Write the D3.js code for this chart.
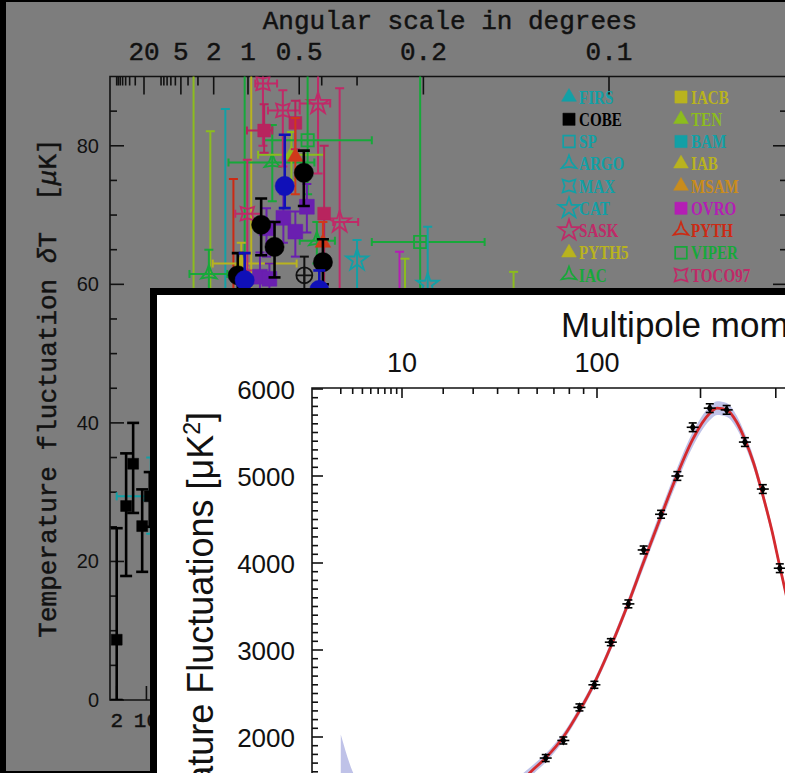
<!DOCTYPE html>
<html><head><meta charset="utf-8">
<script src="https://cdn.jsdelivr.net/npm/d3@7"></script>
<style>html,body{margin:0;padding:0;background:#000;overflow:hidden}</style>
</head><body><svg id="c" width="785" height="773"></svg>
<script>
// ================= BACK CHART DATA =================
const angularMajor = [20, 5, 2, 1, 0.5, 0.2, 0.1];
const angularMinor = [90, 80, 70, 60, 50, 40, 30, 10, 9, 8, 7, 6, 4, 3, 0.4, 0.3];
const backYTicks = [0, 20, 40, 60, 80];
const backBottomTicks = [2, 10];
const legendCol1 = ["FIRS","COBE","SP","ARGO","MAX","CAT","SASK","PYTH5","IAC"];
const legendCol2 = ["IACB","TEN","BAM","IAB","MSAM","OVRO","PYTH","VIPER","TOCO97"];
const expColor = {FIRS:"#12a0a6",COBE:"#000",SP:"#12a0a6",ARGO:"#12a0a6",MAX:"#12a0a6",CAT:"#12a0a6",
  SASK:"#c02a68",PYTH5:"#b9b31e",IAC:"#17a83a",IACB:"#b9b31e",TEN:"#8cbc1e",BAM:"#12a0a6",IAB:"#b9b31e",
  MSAM:"#c98c1c",OVRO:"#b41eb4",PYTH:"#cc2a14",VIPER:"#17a83a",TOCO97:"#c02a68",
  BOOM:"#000",MAXIMA:"#1010b8",QMAP:"#6a1fb0",MAT:"#b8245e",MSAM2:"#d0381a",SK:"#111"};
const expShape = {FIRS:"tri",COBE:"sq",SP:"osq",ARGO:"tristar",MAX:"star4",CAT:"star5",SASK:"star5",
  PYTH5:"tri",IAC:"tristar",IACB:"sq",TEN:"tri",BAM:"sq",IAB:"tri",MSAM:"tri",OVRO:"sq",PYTH:"tristar",
  VIPER:"osq",TOCO97:"star4",BOOM:"circle",MAXIMA:"circle",QMAP:"bigsq",MAT:"sq",MSAM2:"tri",SK:"ocross"};

// measurements: experiment, multipole, dT, lower, upper, l-range low, l-range high
const ptExp = ["TEN","TEN","SP","PYTH","IAC","PYTH5","VIPER","SASK","SASK","IAC","IAC","TEN","IAB","IAC",
  "CAT","CAT","OVRO","TEN","TEN","VIPER","TOCO97","TOCO97","TOCO97","MAT","MAT","MAT","MSAM2","MSAM2",
  "QMAP","QMAP","QMAP","QMAP","QMAP","QMAP","SK","BOOM","BOOM","BOOM","BOOM","BOOM",
  "MAXIMA","MAXIMA","MAXIMA","FIRS","COBE","COBE","COBE","COBE","COBE"];
const ptL  = [53, 83, 117, 138, 170, 190, 885, 525, 435, 260, 80, 330, 160, 430,
  600, 920, 790, 815, 1330, 393, 228, 298, 178, 232, 345, 460, 345, 455,
  390, 300, 240, 345, 218, 250, 380, 378, 222, 268, 150, 455,
  305, 170, 440, 12, 2, 3.7, 5.4, 8.3, 11.5];
const ptV  = [30, 40, 45, 48, 45, 50, 66.1, 69.0, 86.1, 77.6, 61.5, 78.7, 63.0, 66.3,
  63.5, 60, 56, 55, 55, 80.8, 89.0, 85.1, 70.2, 82.2, 83.3, 70.2, 78.4, 66.0,
  71.2, 69.6, 68.1, 67.6, 61.1, 60.8, 61.3, 76.1, 68.6, 65.4, 61.3, 63.2,
  74.2, 60.6, 59.2, 29.4, 8.7, 28.0, 34.1, 25.1, 29.4];
const ptLo = [0, 5, 10, 30, 0, 0, 0, 30, 76, 72, 58, 75, 59, 63,
  50, 45, 45, 45, 45, 73, 80, 77, 62, 79, 79.5, 60, 73, 63,
  67.5, 66, 64, 64, 58, 57, 58, 71.3, 64.2, 61, 57.5, 60,
  71, 55, 55, 24, 0, 17.9, 27, 18.5, 25];
const ptHi = [98, 82.1, 85.3, 75.2, 98, 98, 98, 88.3, 98, 83, 65, 82, 66, 69,
  66.4, 68.3, 64.7, 63.7, 61.8, 92, 95, 88, 78, 86, 86.5, 80, 84, 69,
  74.5, 73, 71, 70.5, 64.6, 63, 64, 79.3, 72.4, 69, 64.5, 66.5,
  81.6, 64.5, 62, 35, 24.8, 35.6, 40.0, 30.4, 32.9];
const ptLLo = [null,null,null,null,null,null,665,498,362,125,47,212,88,362,
  null,null,null,null,null,228,203,245,143,177,null,null,null,null,
  null,null,null,null,null,null,null,null,null,null,null,null,
  null,null,null,2,null,null,null,null,null];
const ptLHi = [null,null,null,null,null,null,1190,605,485,420,122,460,350,505,
  null,null,null,null,null,665,277,362,222,260,null,null,null,null,
  null,null,null,null,null,null,null,null,null,null,null,null,
  null,null,null,25,null,null,null,null,null];

// ================= FRONT CHART DATA (Planck) =================
const frontTopLabels = [10, 100];
const frontTopMajor = [10, 100, 200, 300];
const frontTopMinor = [2,3,4,5,6,7,8,9,20,30,40,50,60,70,80,90];
const frontYTicks = [2000, 3000, 4000, 5000, 6000];
const modelL = [2,3,4,5,6,8,10,15,20,30,40,50,56,65,76,87,98,111,126,139,157,174,191,211,220,232,245,256,268,281,294,306,318,330,345];
const modelD = [1000,960,930,910,890,870,860,850,880,1000,1200,1440,1590,1760,2000,2300,2620,3040,3540,3980,4540,5020,5420,5720,5780,5760,5620,5420,5150,4780,4380,3960,3560,3150,2650];
const bandHi = [2030,1600,1400,1310,1240,1160,1110,1050,1050,1140,1320,1540,1650,1810,2045,2345,2665,3090,3595,4045,4615,5100,5505,5800,5860,5840,5695,5490,5215,4840,4435,4015,3615,3200,2700];
const bandLo = [280,400,470,520,560,600,640,680,730,870,1080,1340,1530,1710,1955,2255,2575,2990,3485,3915,4465,4940,5335,5640,5700,5680,5545,5350,5085,4720,4325,3905,3505,3100,2600];
const dataL = [65,76,87,98,111,126,140,157,174,191,211,232,256,281,306];
const dataD = [1758,1960,2340,2600,3090,3530,4150,4560,5000,5560,5780,5760,5390,4850,3940];
const dataErr = [40,40,40,40,40,45,45,45,50,50,50,50,50,50,50];

// ================= DRAWING =================
const W = 785, H = 773;
const svg = d3.select("#c");
const defs = svg.append("defs");
svg.append("rect").attr("width", W).attr("height", H).attr("fill", "#000");
svg.append("rect").attr("x", 6).attr("y", 2).attr("width", W - 6).attr("height", 769).attr("fill", "#7d7d7d");

const MONO = "'Liberation Mono', 'Courier New', monospace";
const SANS = "'Liberation Sans', Arial, Helvetica, sans-serif";
const SERIF = "'Liberation Serif', 'Times New Roman', serif";

// back scales
const uB = l => Math.log(l + 2) + 0.007257 * l;
const xBu = d3.scaleLinear().domain([uB(2), uB(1800)]).range([116.7, 609]);
const xB = l => xBu(uB(l));
const yB = d3.scaleLinear().domain([0, 90]).range([700, 76.5]);
const BL = 110, BR = 787, BT = yB(90), BB = yB(0);

defs.append("clipPath").attr("id", "clipB").append("rect")
  .attr("x", BL).attr("y", BT).attr("width", BR - BL).attr("height", BB - BT);

const back = svg.append("g");
const monoText = sel => sel.attr("font-family", MONO).attr("fill", "#111").attr("stroke", "#111").attr("stroke-width", 0.45);
// title
monoText(back.append("text").attr("x", 450).attr("y", 29).attr("text-anchor", "middle").attr("font-size", 26))
  .text("Angular scale in degrees");
// angular labels
monoText(back.selectAll(".al").data(angularMajor).join("text")
  .attr("x", d => xB(180 / d)).attr("y", 60).attr("text-anchor", "middle").attr("font-size", 26))
  .text(d => String(d));
// y label
const ylb = monoText(back.append("text").attr("transform", "translate(56,388) rotate(-90)").attr("text-anchor", "middle")
  .attr("font-size", 26)).style("white-space", "pre");
ylb.append("tspan").text("Temperature fluctuation ");
ylb.append("tspan").attr("font-style", "italic").text("\u03b4");
ylb.append("tspan").text("T  [");
ylb.append("tspan").attr("font-style", "italic").text("\u03bc");
ylb.append("tspan").text("K]");
// y tick labels
back.selectAll(".yl").data(backYTicks).join("text")
  .attr("x", 99).attr("y", d => yB(d) + 7).attr("text-anchor", "end")
  .attr("font-family", SANS).attr("font-size", 20).attr("fill", "#111").text(d => d);
// bottom labels
monoText(back.selectAll(".bl").data(backBottomTicks).join("text")
  .attr("x", d => xB(d)).attr("y", 727).attr("text-anchor", "middle").attr("font-size", 21))
  .text(d => d);

// frame
const fr = back.append("g").attr("stroke", "#111").attr("stroke-width", 1.6).attr("fill", "none");
fr.append("path").attr("d", `M${BR},${BT}H${BL}V${BB}H${BR}`);
fr.append("line").attr("x1", BR).attr("x2", BR).attr("y1", BT).attr("y2", BB);
fr.selectAll(".tM").data(angularMajor).join("line")
  .attr("x1", d => xB(180 / d)).attr("x2", d => xB(180 / d)).attr("y1", BT).attr("y2", BT + 18);
fr.selectAll(".tm").data(angularMinor).join("line")
  .attr("x1", d => xB(180 / d)).attr("x2", d => xB(180 / d)).attr("y1", BT).attr("y2", BT + 9);
const yTickVals = d3.range(0, 90, 5);
fr.selectAll(".yt").data(yTickVals).join("line")
  .attr("x1", BL).attr("x2", d => BL + (d % 20 === 0 ? 14 : 7)).attr("y1", d => yB(d)).attr("y2", d => yB(d));
fr.selectAll(".yr").data(yTickVals).join("line")
  .attr("x1", BR).attr("x2", d => BR - (d % 20 === 0 ? 14 : 7)).attr("y1", d => yB(d)).attr("y2", d => yB(d));
fr.selectAll(".bt").data(backBottomTicks).join("line")
  .attr("x1", d => xB(d)).attr("x2", d => xB(d)).attr("y1", BB).attr("y2", BB - 14);

// symbol helpers
function starPath(n, R, r, rot) {
  const pts = [];
  for (let i = 0; i < 2 * n; i++) pts.push([rot + i * Math.PI / n, i % 2 ? r : R]);
  return d3.lineRadial().curve(d3.curveLinearClosed)(pts);
}
function shapePath(shape, k) {
  k = k || 1;
  switch (shape) {
    case "tri": return d3.symbol(d3.symbolTriangle, 105 * k * k)();
    case "sq": return d3.symbol(d3.symbolSquare, 165 * k * k)();
    case "bigsq": return d3.symbol(d3.symbolSquare, 220 * k * k)();
    case "osq": return d3.symbol(d3.symbolSquare, 150 * k * k)();
    case "star5": return d3.symbol(d3.symbolStar, 150 * k * k)();
    case "circle": return d3.symbol(d3.symbolCircle, 290 * k * k)();
    case "ocross": return d3.symbol(d3.symbolCircle, 200 * k * k)() + "M-8,0H8M0,-8V8";
    case "tristar": return starPath(3, 9 * k, 3.2 * k, 0);
    case "star4": return starPath(4, 9.5 * k, 4.6 * k, Math.PI / 4);
  }
}
const isOpen = s => ["osq", "star5", "tristar", "star4", "ocross"].includes(s);

// data points
const pts = ptExp.map((e, i) => ({e, l: ptL[i], v: ptV[i], lo: ptLo[i], hi: ptHi[i], llo: ptLLo[i], lhi: ptLHi[i]}));
const dataG = back.append("g").attr("clip-path", "url(#clipB)");
pts.forEach(p => {
  const c = expColor[p.e], x = xB(p.l), y = yB(p.v);
  const heavy = (p.e === "BOOM" || p.e === "MAXIMA" || p.e === "COBE");
  const sw = heavy ? 2.6 : 2;
  const cw = heavy ? 6 : 4.5;
  const g = dataG.append("g").attr("stroke", c).attr("stroke-width", sw).attr("fill", "none");
  g.append("line").attr("x1", x).attr("x2", x).attr("y1", yB(p.lo)).attr("y2", yB(p.hi));
  g.append("line").attr("x1", x - cw).attr("x2", x + cw).attr("y1", yB(p.hi)).attr("y2", yB(p.hi));
  g.append("line").attr("x1", x - cw).attr("x2", x + cw).attr("y1", yB(p.lo)).attr("y2", yB(p.lo));
  if (p.llo != null) {
    g.append("line").attr("x1", xB(p.llo)).attr("x2", xB(p.lhi)).attr("y1", y).attr("y2", y);
    g.append("line").attr("x1", xB(p.llo)).attr("x2", xB(p.llo)).attr("y1", y - 4).attr("y2", y + 4);
    g.append("line").attr("x1", xB(p.lhi)).attr("x2", xB(p.lhi)).attr("y1", y - 4).attr("y2", y + 4);
  }
  const s = expShape[p.e];
  const k = (p.e === "COBE") ? 0.85 : 1;
  dataG.append("path").attr("transform", `translate(${x},${y})`).attr("d", shapePath(s, k))
    .attr("fill", isOpen(s) ? "none" : c).attr("stroke", c).attr("stroke-width", isOpen(s) ? 1.8 : 0.5);
});

// legend
const legRow = d3.scaleLinear().domain([0, 8]).range([97, 275]);
function legendCol(names, sx, tx) {
  const g = back.append("g");
  names.forEach((n, i) => {
    const c = expColor[n], s = expShape[n], y = legRow(i);
    g.append("path").attr("transform", `translate(${sx},${y})`).attr("d", shapePath(s, 0.95))
      .attr("fill", isOpen(s) ? "none" : c).attr("stroke", c).attr("stroke-width", isOpen(s) ? 1.7 : 0.5);
    g.append("text").attr("transform", `translate(${tx},${y + 6.5}) scale(0.84,1)`)
      .attr("font-family", SERIF).attr("font-weight", "bold").attr("font-size", 18).attr("fill", c).text(n);
  });
}
legendCol(legendCol1, 569, 579);
legendCol(legendCol2, 681, 691);

// ================= FRONT PANEL =================
const front = svg.append("g");
front.append("rect").attr("x", 153.5).attr("y", 291.5).attr("width", 700).attr("height", 600)
  .attr("fill", "#fff").attr("stroke", "#000").attr("stroke-width", 7);

const xF = d3.scalePow().exponent(0.4).domain([10, 100]).range([402, 597]);
const yF = d3.scaleLinear().domain([2000, 6000]).range([737, 389]);
const FL = 312, FT = 388;
defs.append("clipPath").attr("id", "clipF").append("rect")
  .attr("x", FL).attr("y", FT).attr("width", W - FL).attr("height", H - FT);

const model = modelL.map((l, i) => ({l, d: modelD[i], lo: bandLo[i], hi: bandHi[i]}));
const plotF = front.append("g").attr("clip-path", "url(#clipF)");
plotF.append("path").datum(model)
  .attr("d", d3.area().x(d => xF(d.l)).y0(d => yF(d.lo)).y1(d => yF(d.hi)).curve(d3.curveMonotoneX))
  .attr("fill", "#bfc2e8");
plotF.append("path").datum(model)
  .attr("d", d3.line().x(d => xF(d.l)).y(d => yF(d.d)).curve(d3.curveMonotoneX))
  .attr("fill", "none").attr("stroke", "#d42a2e").attr("stroke-width", 2.8);
const fdata = dataL.map((l, i) => ({l, d: dataD[i], e: dataErr[i]}));
const dg = plotF.append("g").attr("stroke", "#000").attr("stroke-width", 1.6);
fdata.forEach(p => {
  const x = xF(p.l), y = yF(p.d), y1 = yF(p.d + p.e), y2 = yF(p.d - p.e);
  dg.append("line").attr("x1", x).attr("x2", x).attr("y1", y1).attr("y2", y2);
  dg.append("line").attr("x1", x - 4).attr("x2", x + 4).attr("y1", y1).attr("y2", y1);
  dg.append("line").attr("x1", x - 4).attr("x2", x + 4).attr("y1", y2).attr("y2", y2);
  dg.append("line").attr("x1", x - 6).attr("x2", x + 6).attr("y1", y).attr("y2", y);
  plotF.append("path").attr("transform", `translate(${x},${y})`).attr("d", d3.symbol(d3.symbolDiamond, 30)()).attr("fill", "#000");
});

// front axes
const fa = front.append("g").attr("stroke", "#111").attr("stroke-width", 1.6).attr("fill", "none");
fa.append("path").attr("d", `M${W},${FT}H${FL}V${H}`);
fa.selectAll(".fM").data(frontTopMajor).join("line")
  .attr("x1", d => xF(d)).attr("x2", d => xF(d)).attr("y1", FT).attr("y2", FT + 10);
fa.selectAll(".fm").data(frontTopMinor).join("line")
  .attr("x1", d => xF(d)).attr("x2", d => xF(d)).attr("y1", FT).attr("y2", FT + 6);
const fyt = d3.range(1600, 6001, 100);
fa.selectAll(".fy").data(fyt).join("line")
  .attr("x1", FL).attr("x2", d => FL + (d % 1000 === 0 ? 11 : 6)).attr("y1", d => yF(d)).attr("y2", d => yF(d));

front.selectAll(".ftl").data(frontTopLabels).join("text")
  .attr("x", d => xF(d)).attr("y", 372).attr("text-anchor", "middle")
  .attr("font-family", SANS).attr("font-size", 27).attr("fill", "#111").text(d => d);
front.append("text").attr("x", 561).attr("y", 337)
  .attr("font-family", SANS).attr("font-size", 35).attr("fill", "#111").text("Multipole moment, \u2113");
front.selectAll(".fyl").data(frontYTicks).join("text")
  .attr("x", 295).attr("y", d => yF(d) + 9.5).attr("text-anchor", "end")
  .attr("font-family", SANS).attr("font-size", 26).attr("fill", "#111").text(d => d);
const yt = front.append("text").attr("transform", "translate(213,412) rotate(-90)").attr("text-anchor", "end")
  .attr("font-family", SANS).attr("font-size", 36).attr("fill", "#111");
yt.append("tspan").text("Temperature Fluctuations [\u03bcK");
yt.append("tspan").attr("baseline-shift", "super").attr("font-size", 23).text("2");
yt.append("tspan").text("]");
</script></body></html>
